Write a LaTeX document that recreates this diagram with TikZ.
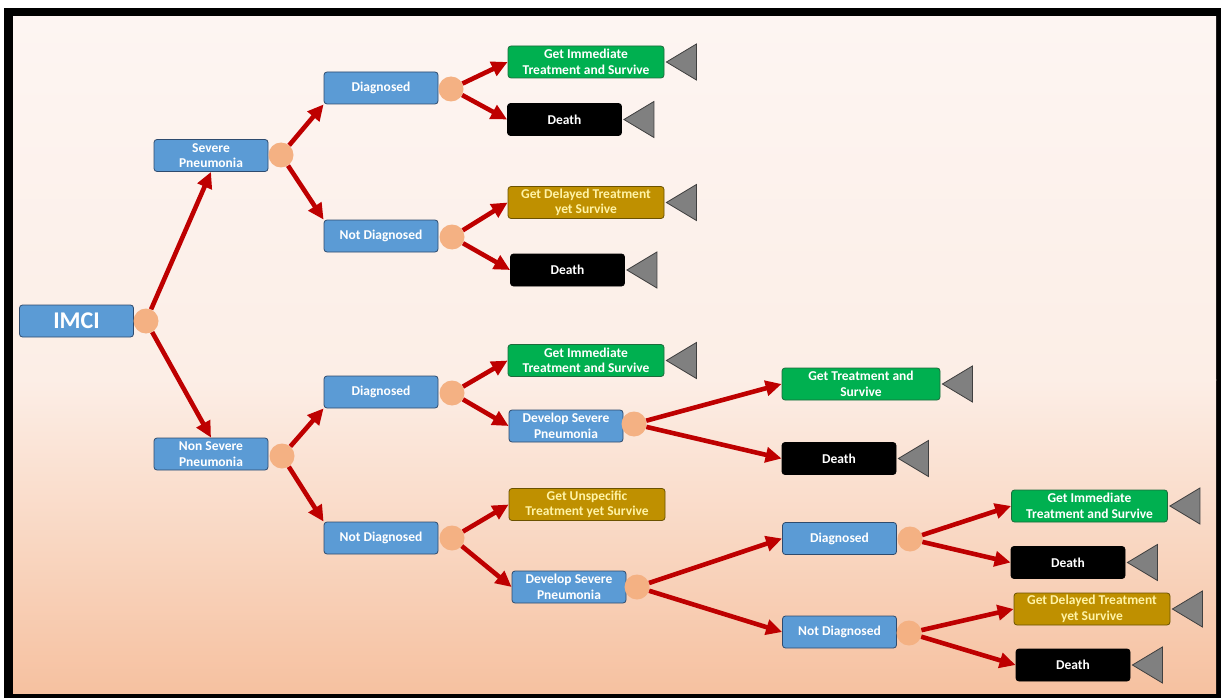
\documentclass[tikz,border=0pt]{standalone}
\usepackage{fontspec}
\setmainfont{Carlito}
\usepackage{tikz}
\usetikzlibrary{
arrows.meta,
positioning,
calc
}
\definecolor{TreeBlue}{HTML}{5B9BD5}
\definecolor{TreeBlueDark}{HTML}{2E4B6E}
\definecolor{TreeGreen}{HTML}{00B050}
\definecolor{TreeGreenDark}{HTML}{1D6B3B}
\definecolor{TreeGold}{HTML}{BF9000}
\definecolor{TreeGoldDark}{HTML}{6B5200}
\definecolor{GoldText}{HTML}{FFF3A6}
\definecolor{TreeRed}{HTML}{BE0000}
\definecolor{ChanceDot}{HTML}{F4B183}
\definecolor{BgTop}{HTML}{FDF5F2}
\definecolor{BgMid}{HTML}{FCEEE6}
\definecolor{BgBottom}{HTML}{F6C1A0}

\begin{document}
\begin{tikzpicture}[
    x=1pt,
    y=-1pt,
    font=\bfseries\fontsize{13.5}{15.5}\selectfont,
    box/.style={
        rounded corners=3pt,
        minimum height=32pt,
        align=center,
        inner sep=1pt,
        line width=0.8pt,
        text=white
    },
    choice/.style={box, fill=TreeBlue, draw=TreeBlueDark, minimum width=114pt},
    live/.style={box, fill=TreeGreen, draw=TreeGreenDark, minimum width=156pt},
    late/.style={box, fill=TreeGold, draw=TreeGoldDark, minimum width=156pt, text=GoldText},
    dead/.style={box, fill=black, draw=black, minimum width=114pt},
    chance/.style={circle, fill=ChanceDot, minimum size=25pt, inner sep=0pt},
    branch/.style={
        -{Triangle[length=16pt,width=15pt]},
        line width=4.6pt,
        TreeRed
    },
    endmark/.style={fill=black!50, draw=black!75, line width=0.8pt}
]

\useasboundingbox (0,0) rectangle (1221,698);

% =========================
% FRAME AND BACKGROUND
% =========================
\fill[black] (4,8) rectangle (1221,698);
\shade[
    top color=BgTop,
    bottom color=BgMid
]
(13,17) rectangle (1216,380);
\shade[
    top color=BgMid,
    bottom color=BgBottom
]
(13,379.5) rectangle (1216,693);

% =========================
% ROOT
% =========================
\node[choice, font=\bfseries\fontsize{24}{28}\selectfont] (imci) at (76.5,321) {IMCI};
\node[chance] (cImci) at (146,321) {};

% =========================
% SEVERE PNEUMONIA BRANCH
% =========================
\node[choice] (sev) at (211,155.5) {Severe\\Pneumonia};
\node[chance] (cSev) at (281,155) {};

\node[choice] (dxA) at (381,88) {Diagnosed};
\node[chance] (cDxA) at (451,89) {};
\node[live] (liveA) at (586,62) {Get Immediate\\Treatment and Survive};
\node[dead] (deadA) at (564.5,119.5) {Death};

\node[choice] (ndxA) at (381,236) {Not Diagnosed};
\node[chance] (cNdxA) at (452,237) {};
\node[late] (lateA) at (586,202.5) {Get Delayed Treatment\\yet Survive};
\node[dead] (deadB) at (567.5,270) {Death};

% =========================
% NON SEVERE PNEUMONIA BRANCH
% =========================
\node[choice] (nonsev) at (211,454) {Non Severe\\Pneumonia};
\node[chance] (cNonsev) at (282,456) {};

\node[choice] (dxB) at (381,392) {Diagnosed};
\node[chance] (cDxB) at (452,393) {};
\node[live] (liveB) at (586,360.5) {Get Immediate\\Treatment and Survive};
\node[choice] (devA) at (566,426) {Develop Severe\\Pneumonia};
\node[chance] (cDevA) at (634,424) {};
\node[live, minimum width=158pt] (liveC) at (861,384) {Get Treatment and\\Survive};
\node[dead] (deadC) at (839,458.5) {Death};

\node[choice] (ndxB) at (381,538) {Not Diagnosed};
\node[chance] (cNdxB) at (452,538) {};
\node[late] (lateB) at (587,504.5) {Get Unspecific\\Treatment yet Survive};
\node[choice] (devB) at (569,587) {Develop Severe\\Pneumonia};
\node[chance] (cDevB) at (637,587) {};

\node[choice] (dxC) at (839.5,538.5) {Diagnosed};
\node[chance] (cDxC) at (910,539) {};
\node[live] (liveD) at (1089.5,506) {Get Immediate\\Treatment and Survive};
\node[dead] (deadD) at (1068,562.5) {Death};

\node[choice] (ndxC) at (839.5,632) {Not Diagnosed};
\node[chance] (cNdxC) at (909,633) {};
\node[late] (lateC) at (1092,609) {Get Delayed Treatment\\yet Survive};
\node[dead] (deadE) at (1073,665) {Death};

% =========================
% BRANCHES
% =========================
\draw[branch] (cImci) -- (sev.south);
\draw[branch] (cImci) -- (nonsev.north);

\draw[branch] (cSev) -- (dxA.south west);
\draw[branch] (cSev) -- (ndxA.north west);
\draw[branch] (cNonsev) -- (dxB.south west);
\draw[branch] (cNonsev) -- (ndxB.north west);

\foreach \from/\to in {
    cDxA/liveA, cDxA/deadA,
    cNdxA/lateA, cNdxA/deadB,
    cDxB/liveB, cDxB/devA,
    cDevA/liveC, cDevA/deadC,
    cNdxB/lateB, cNdxB/devB,
    cDevB/dxC, cDevB/ndxC,
    cDxC/liveD, cDxC/deadD,
    cNdxC/lateC, cNdxC/deadE}
    \draw[branch] (\from) -- (\to.west);

% =========================
% TERMINAL MARKS
% =========================
\foreach \leaf in {liveA, deadA, lateA, deadB, liveB, liveC, deadC, liveD, deadD, lateC, deadE}
    \draw[endmark] ($(\leaf.east)+(2,0)$) -- ++(30,-18) -- ++(0,36) -- cycle;

\end{tikzpicture}
\end{document}
